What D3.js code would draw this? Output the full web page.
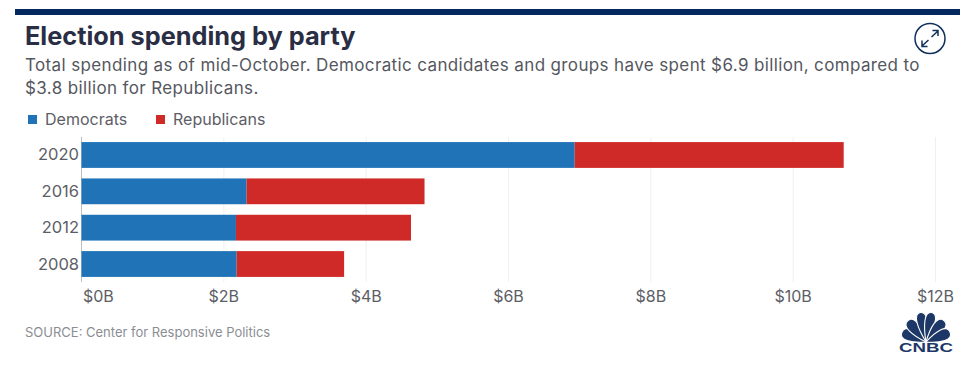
<!DOCTYPE html>
<html><head><meta charset="utf-8">
<script src="https://cdn.jsdelivr.net/npm/d3@7"></script>
<style>html,body{margin:0;padding:0;background:#fff}svg{display:block}text{font-family:Inter,"Open Sans",sans-serif}</style>
</head><body><svg id="c" width="975" height="376"></svg>
<script>
const years=["2020","2016","2012","2008"];
const democrats=[6.93,2.32,2.17,2.18];
const republicans=[3.78,2.50,2.46,1.51];
const seriesNames=["Democrats","Republicans"];
const seriesColors=["#2073b6","#cf2a27"];
const xTicks=[0,2,4,6,8,10,12];
const title="Election spending by party";
const subtitle=["Total spending as of mid-October. Democratic candidates and groups have spent $6.9 billion, compared to","$3.8 billion for Republicans."];
const source="SOURCE: Center for Responsive Politics";

const svg=d3.select("#c");
const x=d3.scaleLinear().domain([0,12]).range([81.5,935.5]);
const y=d3.scaleBand().domain(years).range([137,282]).paddingInner(0.29).paddingOuter(0.14);

svg.append("rect").attr("x",15).attr("y",9).attr("width",945).attr("height",6).attr("fill","#03295f");
svg.append("text").attr("x",25).attr("y",45).attr("font-size",25.3).attr("font-weight",700).attr("fill","#2a2e45").text(title);
svg.selectAll(".sub").data(subtitle).join("text").attr("class","sub").attr("x",25).attr("y",(d,i)=>71+i*23).attr("font-size",17).attr("letter-spacing",0.37).attr("fill","#555760").text(d=>d);

const lg=svg.selectAll(".lg").data(seriesNames).join("g").attr("class","lg").attr("transform",(d,i)=>`translate(${[28,156][i]},115)`);
lg.append("rect").attr("width",9).attr("height",9).attr("fill",(d,i)=>seriesColors[i]);
lg.append("text").attr("x",17).attr("y",10).attr("font-size",16).attr("fill","#5c5e66").text(d=>d);

const grid=svg.append("g").attr("transform","translate(0,137)");
grid.selectAll("line").data(xTicks.slice(1)).join("line").attr("x1",d=>x(d)).attr("x2",d=>x(d)).attr("y1",0).attr("y2",145).attr("stroke","#f0f0f0");
svg.append("line").attr("x1",x(0)).attr("x2",x(0)).attr("y1",137).attr("y2",282).attr("stroke","#bdbdbd");

const stack=years.map((yr,i)=>({yr,parts:[[0,democrats[i]],[democrats[i],democrats[i]+republicans[i]]]}));
const rows=svg.selectAll(".row").data(stack).join("g").attr("class","row");
rows.selectAll("rect").data(d=>d.parts.map(p=>({p,yr:d.yr}))).join("rect")
 .attr("x",d=>x(d.p[0])).attr("width",d=>x(d.p[1])-x(d.p[0])).attr("y",d=>y(d.yr)).attr("height",y.bandwidth())
 .attr("fill",(d,i)=>seriesColors[i]);

svg.selectAll(".yl").data(years).join("text").attr("class","yl").attr("x",79).attr("y",d=>y(d)+y.bandwidth()/2+5.5).attr("text-anchor","end").attr("font-size",16.5).attr("fill","#5c5e66").text(d=>d);
svg.selectAll(".xl").data(xTicks).join("text").attr("class","xl").attr("x",d=>d===0?x(d)+1.5:x(d)).attr("y",302).attr("text-anchor",d=>d===0?"start":"middle").attr("font-size",16).attr("fill","#5c5e66").text(d=>`$${d}B`);
svg.append("text").attr("x",25).attr("y",337).attr("font-size",13).attr("fill","#8b8d93").text(source);

// expand icon
const ic=svg.append("g").attr("transform","translate(930,38.5)").attr("fill","none").attr("stroke","#10305c").attr("stroke-width",1.5);
ic.append("circle").attr("r",15);
ic.append("path").attr("d","M1.5,-1.5 L8,-7.5 M2.5,-8 L8,-8 L8,-2.5 M-1.5,1.5 L-8,7.5 M-8,2 L-8,8 L-2.5,8");

// CNBC logo
const logo=svg.append("g").attr("transform","translate(926,352)");
const feathers=[[-68,26,9],[-40,28,9],[-11,30,8],[11,30,8],[40,28,9],[68,26,9]];
logo.selectAll("path").data(feathers).join("path")
 .attr("d",d=>`M0,0 C${-d[2]*.7},${-d[1]*.5} ${-d[2]},${-d[1]} 0,${-d[1]} C${d[2]},${-d[1]} ${d[2]*.7},${-d[1]*.5} 0,0Z`)
 .attr("fill","#1d3767").attr("stroke","#fff").attr("stroke-width",1.1).attr("transform",d=>`translate(0,-10) rotate(${d[0]})`);
logo.append("text").attr("x",0).attr("y",0).attr("text-anchor","middle").attr("font-size",12.5).attr("font-weight",700).attr("fill","#1d3767").attr("textLength",54).attr("lengthAdjust","spacingAndGlyphs").style("font-family","'Liberation Sans'").text("CNBC");
</script></body></html>
